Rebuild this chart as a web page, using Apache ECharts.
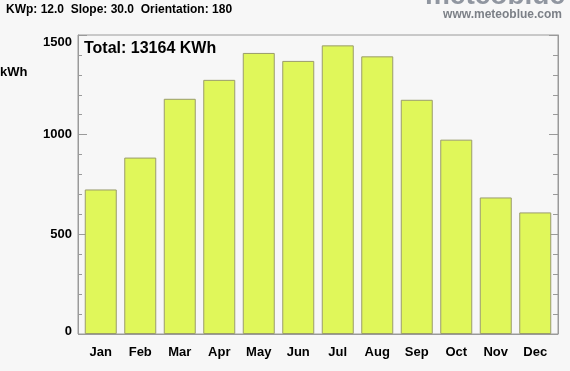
<!DOCTYPE html>
<html><head><meta charset="utf-8">
<script src="https://cdn.jsdelivr.net/npm/echarts@6/dist/echarts.min.js"></script>
<style>html,body{margin:0;padding:0;background:#f7f7f7}#c{width:570px;height:371px}</style>
</head><body><div id="c"></div>
<script>
const months = ['Jan','Feb','Mar','Apr','May','Jun','Jul','Aug','Sep','Oct','Nov','Dec'];
const energyKWh = [725, 885, 1180, 1275, 1410, 1370, 1448, 1393, 1175, 975, 685, 610];
const yTicks = [0, 500, 1000, 1500];
const headerText = 'KWp: 12.0  Slope: 30.0  Orientation: 180';
const totalText = 'Total: 13164 KWh';
const unitText = 'kWh';

const chart = echarts.init(document.getElementById('c'), null, {renderer:'canvas'});
const font = 'Liberation Sans, Arial, sans-serif';
const axisGray = '#9a9a9a';
chart.setOption({
  backgroundColor: '#f7f7f7',
  animation: false,
  grid: [
    {left: 78, right: 12, top: 35, bottom: 37, show: true, borderColor: axisGray, borderWidth: 1, backgroundColor: 'transparent'},
    {left: 81, right: 15, top: 35, bottom: 37}
  ],
  graphic: [
    {type:'text', left: 6, top: 4, style:{text: headerText, font: 'bold 12px ' + font, fill:'#000'}},
    {type:'text', right: 5, top: -18, style:{text: 'meteoblue', font: 'bold 28px ' + font, fill:'#9096a0'}},
    {type:'text', right: 8, top: 9, style:{text: 'www.meteoblue.com', font: 'bold 12px ' + font, fill:'#7c8087'}},
    {type:'text', left: 0, top: 66, style:{text: unitText, font: 'bold 13px ' + font, fill:'#000'}},
    {type:'text', left: 84, top: 41, style:{text: totalText, font: 'bold 16px ' + font, fill:'#000'}}
  ],
  xAxis: [{
    gridIndex: 0, type: 'value', min: 0, max: 1, show: false
  },{
    gridIndex: 1, type: 'category', data: months,
    axisLine: {show: true, lineStyle: {color: axisGray}},
    axisTick: {show: true, inside: true, alignWithLabel: true, length: 4, lineStyle: {color: axisGray}},
    axisLabel: {color: '#000', fontWeight: 'bold', fontSize: 13, fontFamily: font, margin: 12}
  }],
  yAxis: [{
    gridIndex: 0, type: 'value', min: 0, max: 1500, interval: 500, position: 'left',
    axisLine: {show: true, lineStyle: {color: axisGray}},
    axisTick: {show: true, inside: true, length: 9, lineStyle: {color: axisGray}},
    minorTick: {show: true, splitNumber: 5, length: 4, lineStyle: {color: axisGray}},
    splitLine: {show: false},
    axisLabel: {color: '#000', fontWeight: 'bold', fontSize: 13, fontFamily: font, margin: 6,
      formatter: v => v === 1500 ? '{t|1500}' : (v === 0 ? '{b|0}' : (yTicks.includes(v) ? String(v) : '')),
      rich: {
        t: {fontWeight: 'bold', fontSize: 13, fontFamily: font, color: '#000', padding: [14, 0, 0, 0]},
        b: {fontWeight: 'bold', fontSize: 13, fontFamily: font, color: '#000', padding: [0, 0, 6, 0]}
      }}
  },{
    gridIndex: 0, type: 'value', min: 0, max: 1500, interval: 500, position: 'right',
    axisLine: {show: true, lineStyle: {color: axisGray}},
    axisTick: {show: true, inside: true, length: 9, lineStyle: {color: axisGray}},
    minorTick: {show: true, splitNumber: 5, length: 5, lineStyle: {color: axisGray}},
    splitLine: {show: false},
    axisLabel: {show: false}
  },{
    gridIndex: 1, type: 'value', min: 0, max: 1500, show: false
  }],
  series: [{
    type: 'bar', data: energyKWh, barWidth: 32, xAxisIndex: 1, yAxisIndex: 2,
    itemStyle: {color: '#e0f75a', borderColor: '#9a9c6c', borderWidth: 1}
  }]
});
</script></body></html>
